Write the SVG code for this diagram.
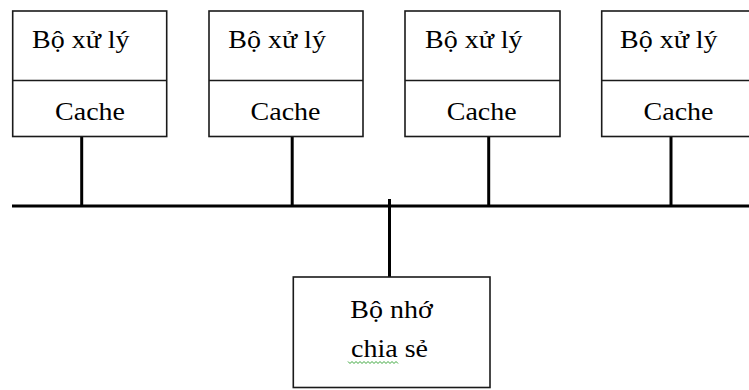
<svg xmlns="http://www.w3.org/2000/svg" width="749" height="390" viewBox="0 0 749 390">
  <style>
    .box { fill: #ffffff; stroke: #1a1a1a; stroke-width: 1.6; }
    .div { stroke: #1a1a1a; stroke-width: 1.6; }
    .wire { stroke: #000000; stroke-width: 3; fill: none; }
    .lbl { font-family: "Liberation Serif", "Times New Roman", serif; font-size: 25px; fill: #000000; }
    .mid { text-anchor: middle; }
    .squiggle { fill: none; stroke: #3aa63a; stroke-width: 1; }
  </style>
  <rect width="749" height="390" fill="#ffffff"/>

  <!-- bus and drops -->
  <g id="connectors">
    <line class="wire" x1="12" y1="206" x2="749" y2="206"/>
    <line class="wire" x1="81.7" y1="136.5" x2="81.7" y2="206"/>
    <line class="wire" x1="292.2" y1="136.5" x2="292.2" y2="206"/>
    <line class="wire" x1="488.7" y1="136.5" x2="488.7" y2="206"/>
    <line class="wire" x1="671" y1="136.5" x2="671" y2="206"/>
    <line class="wire" x1="389.5" y1="199" x2="389.5" y2="277"/>
  </g>

  <!-- processor nodes (labels widened slightly) -->
  <g id="cpu1">
    <rect class="box" x="12.7" y="11" width="154" height="125.5"/>
    <line class="div" x1="12.7" y1="80.5" x2="166.7" y2="80.5"/>
    <text class="lbl" transform="translate(32,48) scale(1.12,1)">Bộ xử lý</text>
    <text class="lbl mid" transform="translate(90,119.5) scale(1.12,1)">Cache</text>
  </g>
  <g id="cpu2">
    <rect class="box" x="209" y="11" width="154" height="125.5"/>
    <line class="div" x1="209" y1="80.5" x2="363" y2="80.5"/>
    <text class="lbl" transform="translate(228.3,48) scale(1.12,1)">Bộ xử lý</text>
    <text class="lbl mid" transform="translate(285.5,119.5) scale(1.12,1)">Cache</text>
  </g>
  <g id="cpu3">
    <rect class="box" x="405" y="11" width="155" height="125.5"/>
    <line class="div" x1="405" y1="80.5" x2="560" y2="80.5"/>
    <text class="lbl" transform="translate(425,48) scale(1.12,1)">Bộ xử lý</text>
    <text class="lbl mid" transform="translate(481.7,119.5) scale(1.12,1)">Cache</text>
  </g>
  <g id="cpu4">
    <rect class="box" x="601.7" y="11" width="155" height="125.5"/>
    <line class="div" x1="601.7" y1="80.5" x2="756.7" y2="80.5"/>
    <text class="lbl" transform="translate(620,48) scale(1.12,1)">Bộ xử lý</text>
    <text class="lbl mid" transform="translate(678.5,119.5) scale(1.12,1)">Cache</text>
  </g>

  <!-- shared memory node -->
  <g id="memory">
    <rect class="box" x="293.3" y="277" width="196.7" height="110.5"/>
    <text class="lbl mid" transform="translate(391.5,318.3) scale(1.12,1)">Bộ nhớ</text>
    <text class="lbl mid" transform="translate(389.5,356.7) scale(1.12,1)">chia sẻ</text>
    <path class="squiggle" d="M348 361.5 l2 2 l2 -2 l2 2 l2 -2 l2 2 l2 -2 l2 2 l2 -2 l2 2 l2 -2 l2 2 l2 -2 l2 2 l2 -2 l2 2 l2 -2 l2 2 l2 -2 l2 2 l2 -2 l2 2 l2 -2 l2 2 l2 -2 l2 2"/>
  </g>
</svg>
